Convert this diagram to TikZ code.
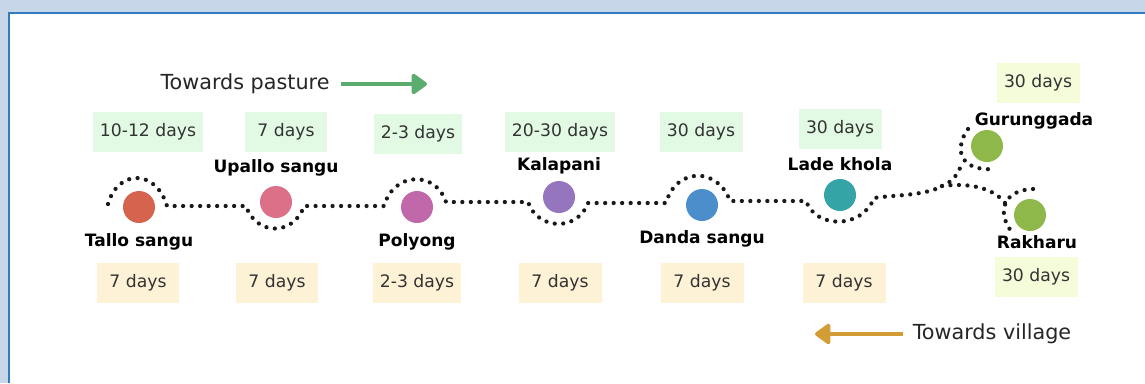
\documentclass[tikz,border=0pt]{standalone}
\usepackage{fontspec}
\setmainfont{DejaVu Sans}
\usepackage{xcolor}
\usetikzlibrary{arrows.meta, positioning}

\definecolor{framebg}{HTML}{C7D6E8}
\definecolor{frameline}{HTML}{2F7DBE}
\definecolor{upfill}{HTML}{E2FAE4}
\definecolor{downfill}{HTML}{FEF2D6}
\definecolor{endfill}{HTML}{F5FCDA}
\definecolor{tallocol}{HTML}{D6634E}
\definecolor{upallocol}{HTML}{DD7089}
\definecolor{polyongcol}{HTML}{C168AA}
\definecolor{kalapanicol}{HTML}{9475BE}
\definecolor{dandacol}{HTML}{4C8DCC}
\definecolor{ladecol}{HTML}{34A4A6}
\definecolor{highcol}{HTML}{8EB84A}
\definecolor{pasturecol}{HTML}{5AAD6E}
\definecolor{villagecol}{HTML}{D49C35}

\begin{document}
\begin{tikzpicture}[
    x=0.02cm, y=0.02cm,
    stop dot/.style={circle, minimum size=0.64cm, inner sep=0pt},
    place label/.style={font=\fontsize{9.7}{11}\selectfont\bfseries},
    stay box/.style={minimum width=1.66cm, minimum height=0.79cm, inner xsep=0.14cm,
        font=\fontsize{9.8}{11}\selectfont, text=black!80},
    up box/.style={stay box, fill=upfill},
    down box/.style={stay box, fill=downfill},
    end box/.style={stay box, fill=endfill},
    trail line/.style={line width=0.085cm, line cap=round, dash pattern=on 0pt off 0.17cm, black!90},
    heading/.style={font=\fontsize{11.8}{14}\selectfont, text=black!85},
    pasture arrow/.style={-{Triangle[length=0.34cm, width=0.46cm, round]}, line width=0.08cm,
        pasturecol, shorten <=0.1cm},
    village arrow/.style={-{Triangle[length=0.34cm, width=0.46cm, round]}, line width=0.08cm,
        villagecol, shorten <=0.08cm}
]
\useasboundingbox (0,0) rectangle (1145,-383);

% Frame
\fill[framebg] (0,0) rectangle (1145,-383);
\fill[white] (9,-13) rectangle (1145,-383);
\draw[frameline, line width=0.03cm] (9,-383) -- (9,-13) -- (1145,-13);

% Trail
\draw[trail line] (108,-204) .. controls (118,-169) and (156,-169) .. (167,-206)
  -- (246,-206) .. controls (256,-236) and (294,-236) .. (304,-206)
  -- (384,-206) .. controls (394,-171) and (436,-171) .. (446,-202)
  -- (528,-202) .. controls (538,-231) and (578,-231) .. (588,-203)
  -- (666,-203) .. controls (676,-167) and (718,-167) .. (730,-201)
  -- (806,-201) .. controls (816,-229) and (862,-229) .. (874,-198)
  .. controls (892,-195) and (925,-196) .. (942,-186);
\draw[trail line] (942,-186) .. controls (952,-182) and (958,-175) .. (962,-163);
\draw[trail line] (968,-129) .. controls (956,-145) and (955,-172) .. (996,-169);
\draw[trail line] (942,-186) .. controls (965,-183) and (992,-186) .. (1005,-203);
\draw[trail line] (1033,-189) .. controls (1003,-190) and (997,-212) .. (1011,-231);

% Stops
\node[stop dot, fill=tallocol] (tallo) at (139,-207) {};
\node[stop dot, fill=upallocol] (upallo) at (276,-202) {};
\node[stop dot, fill=polyongcol] (polyong) at (417,-207) {};
\node[stop dot, fill=kalapanicol] (kalapani) at (559,-197) {};
\node[stop dot, fill=dandacol] (danda) at (702,-205) {};
\node[stop dot, fill=ladecol] (lade) at (840,-195) {};
\node[stop dot, fill=highcol] (guru) at (987,-146) {};
\node[stop dot, fill=highcol] (rakharu) at (1030,-215) {};

% Stop names
\node[place label, below=0.08cm of tallo] (tallo name) {Tallo sangu};
\node[place label, above=0.07cm of upallo] (upallo name) {Upallo sangu};
\node[place label, below=0.08cm of polyong] (polyong name) {Polyong};
\node[place label, above=0cm of kalapani] (kalapani name) {Kalapani};
\node[place label, below=0.06cm of danda] (danda name) {Danda sangu};
\node[place label, above=0.03cm of lade] (lade name) {Lade khola};
\node[place label, above=-0.11cm of guru, xshift=0.94cm] (guru name) {Gurunggada};
\node[place label, below=-0.04cm of rakharu, xshift=0.14cm] (rakharu name) {Rakharu};

% Days going up
\node[up box] (tallo up) at (148,-132) {10-12 days};
\node[up box] (upallo up) at (286,-132) {7 days};
\node[up box] (polyong up) at (418,-134) {2-3 days};
\node[up box] (kalapani up) at (560,-132) {20-30 days};
\node[up box] (danda up) at (701,-132) {30 days};
\node[up box] (lade up) at (840,-129) {30 days};
\node[end box] (guru days) at (1038,-83) {30 days};

% Days going down
\node[down box] (tallo down) at (138,-283) {7 days};
\node[down box] (upallo down) at (277,-283) {7 days};
\node[down box] (polyong down) at (417,-283) {2-3 days};
\node[down box] (kalapani down) at (560,-283) {7 days};
\node[down box] (danda down) at (702,-283) {7 days};
\node[down box] (lade down) at (844,-283) {7 days};
\node[end box] (rakharu days) at (1036,-277) {30 days};

% Directions
\node[heading] (pasture) at (245,-84) {Towards pasture};
\coordinate (pasture tip) at (427,-84);
\draw[pasture arrow] (pasture.east) -- (pasture tip);
\node[heading] (village) at (992,-334) {Towards village};
\coordinate (village tip) at (815,-334);
\draw[village arrow] (village.west) -- (village tip);
\end{tikzpicture}
\end{document}
